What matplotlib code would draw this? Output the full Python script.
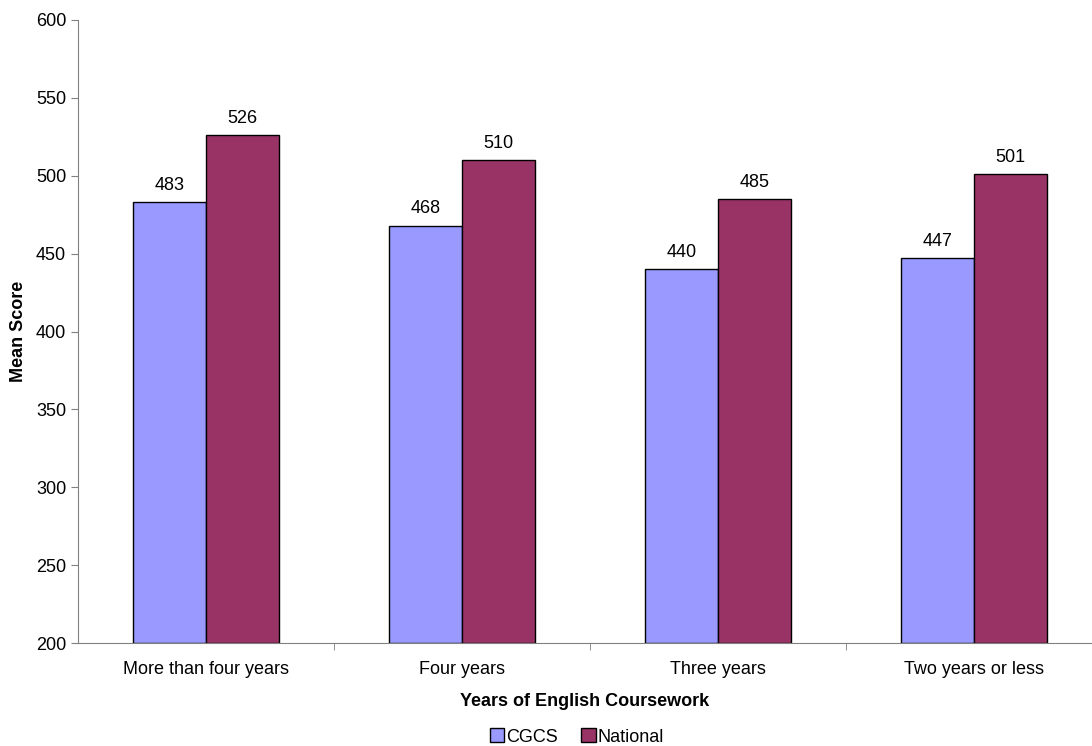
import numpy as np
import matplotlib.pyplot as plt

plt.rcParams['font.family'] = ['Liberation Sans', 'DejaVu Sans']

categories = ['More than four years', 'Four years', 'Three years', 'Two years or less']
cgcs = [483, 468, 440, 447]
national = [526, 510, 485, 501]

fig = plt.figure(figsize=(10.92, 7.46), dpi=100)
# plot area from x=78 to past the right edge, y=20 to 643
ax = fig.add_axes([78 / 1092, 1 - 643 / 746, 1014 / 1092, 623 / 746])

fs = 13
x = np.arange(len(categories))
w = 0.285
b1 = ax.bar(x - w / 2, np.array(cgcs) - 200, w, bottom=200, color='#9999FF',
            edgecolor='black', linewidth=1, label='CGCS')
b2 = ax.bar(x + w / 2, np.array(national) - 200, w, bottom=200, color='#993366',
            edgecolor='black', linewidth=1, label='National')

for i in range(len(categories)):
    ax.annotate(str(cgcs[i]), (x[i] - w / 2, cgcs[i]), xytext=(0, 6), textcoords='offset points',
                ha='center', va='bottom', fontsize=fs)
    ax.annotate(str(national[i]), (x[i] + w / 2, national[i]), xytext=(0, 6), textcoords='offset points',
                ha='center', va='bottom', fontsize=fs)

ax.set_ylim(200, 600)
ax.set_yticks(range(200, 601, 50))
ax.set_xlim(-0.5, -0.5 + 1014 / 256)

ax.set_xticks(x)
ax.set_xticklabels(categories, fontsize=fs)
ax.tick_params(axis='x', length=0, pad=13)
ax.set_xticks([0.5, 1.5, 2.5], minor=True)
ax.tick_params(axis='x', which='minor', length=5, direction='out', color='#808080')
ax.tick_params(axis='y', labelsize=fs, length=5, direction='out', color='#808080')

ax.spines['top'].set_visible(False)
ax.spines['right'].set_visible(False)
ax.spines['left'].set_color('#808080')
ax.spines['bottom'].set_color('#808080')

ax.set_xlabel('Years of English Coursework', fontsize=fs, fontweight='bold', labelpad=11)
ax.set_ylabel('Mean Score', fontsize=fs, fontweight='bold', labelpad=6)

fig.legend(handles=[b1, b2], loc='center', bbox_to_anchor=(577 / 1092, 1 - 737 / 746), ncol=2,
           frameon=False, fontsize=fs, handlelength=0.8, handleheight=0.8,
           handletextpad=0.1, columnspacing=1.3)

fig.savefig('out.png', dpi=100)
